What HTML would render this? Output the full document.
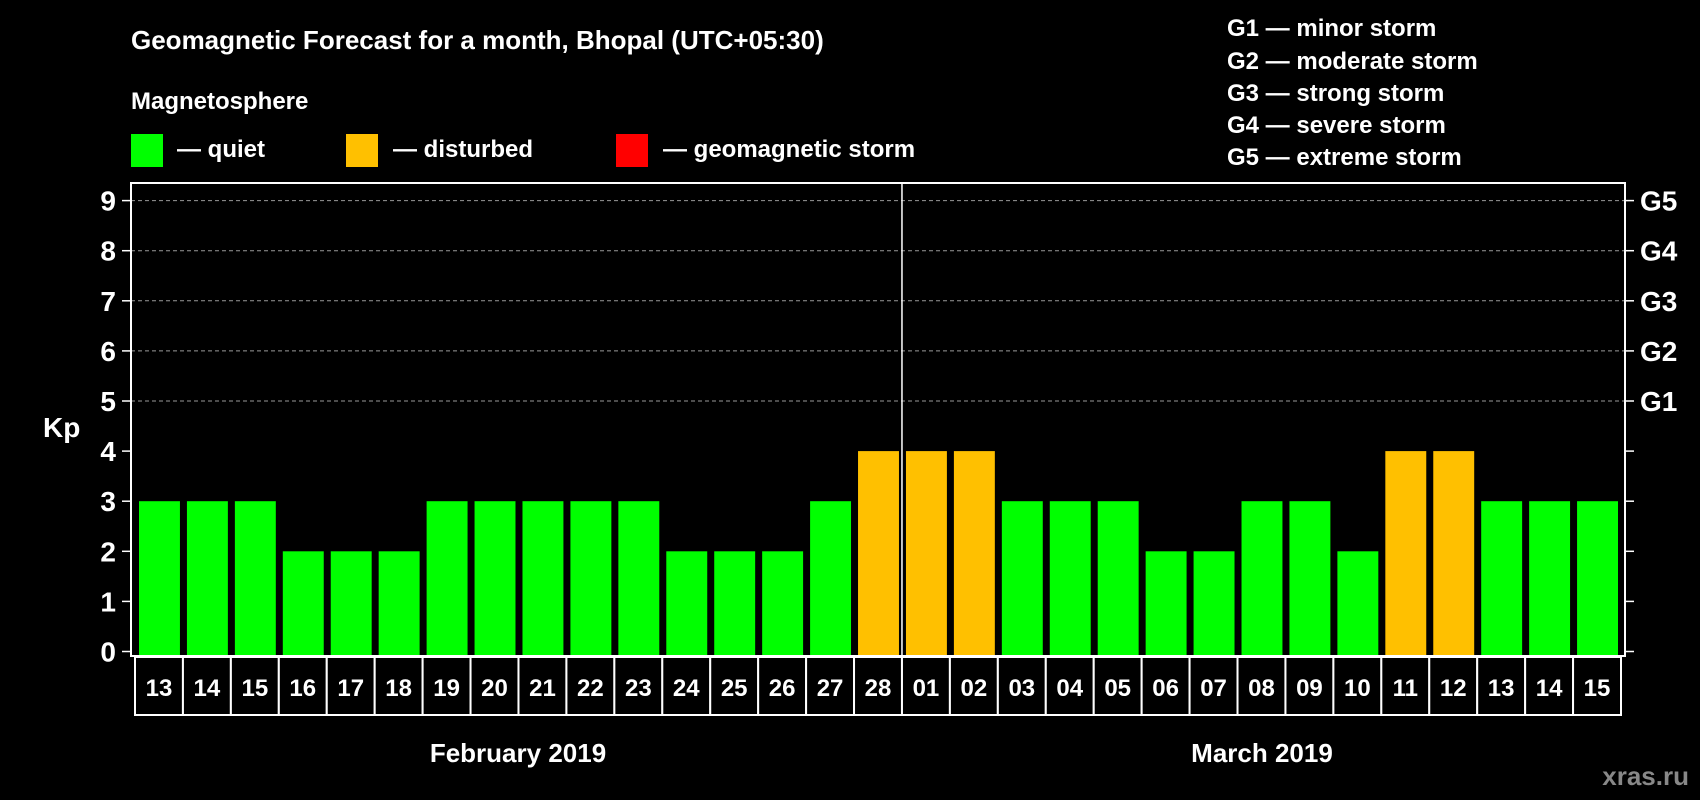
<!DOCTYPE html>
<html><head><meta charset="utf-8"><style>
html,body{margin:0;padding:0;background:#000;}
svg{display:block;font-family:"Liberation Sans",Arial,sans-serif;font-weight:bold;}
</style></head><body>
<svg id="chart" width="1700" height="800" viewBox="0 0 1700 800">
<rect width="1700" height="800" fill="#000"/>
<text x="131" y="49" fill="#fff" font-size="26">Geomagnetic Forecast for a month, Bhopal (UTC+05:30)</text>
<text x="131" y="109" fill="#fff" font-size="24">Magnetosphere</text>
<g>
<rect x="131" y="134" width="32" height="33" fill="#00ff00"/>
<text x="177" y="157" fill="#fff" font-size="24">— quiet</text>
<rect x="346" y="134" width="32" height="33" fill="#ffc000"/>
<text x="393" y="157" fill="#fff" font-size="24">— disturbed</text>
<rect x="616" y="134" width="32" height="33" fill="#ff0000"/>
<text x="663" y="157" fill="#fff" font-size="24">— geomagnetic storm</text>
</g>
<g fill="#fff" font-size="24">
<text x="1227" y="36">G1 — minor storm</text>
<text x="1227" y="69">G2 — moderate storm</text>
<text x="1227" y="101">G3 — strong storm</text>
<text x="1227" y="133">G4 — severe storm</text>
<text x="1227" y="165">G5 — extreme storm</text>
</g>
<text x="43" y="437" fill="#fff" font-size="28">Kp</text>
<g id="plot"></g>
<text x="518" y="762" fill="#fff" font-size="26" text-anchor="middle">February 2019</text>
<text x="1262" y="762" fill="#fff" font-size="26" text-anchor="middle">March 2019</text>
<text x="1689" y="785" fill="#888" font-size="26" text-anchor="end">xras.ru</text>
</svg>
<script>
const days = ["13","14","15","16","17","18","19","20","21","22","23","24","25","26","27","28","01","02","03","04","05","06","07","08","09","10","11","12","13","14","15"];
const kpValues = [3,3,3,2,2,2,3,3,3,3,3,2,2,2,3,4,4,4,3,3,3,2,2,3,3,2,4,4,3,3,3];
const yTicks = [0,1,2,3,4,5,6,7,8,9];
const gLabels = ["G1","G2","G3","G4","G5"];
const monthSplit = 16;

const NS="http://www.w3.org/2000/svg";
const g=document.getElementById('plot');
const L=131,R=1625,T=183,B=656,X0=135,X1=1621;
const y0=651.5,y9=200.6;
function yS(v){return y0+(y9-y0)*v/9;}
const band=(X1-X0)/days.length;
function xS(i){return X0+i*band;}
function mk(tag,attrs){const e=document.createElementNS(NS,tag);for(const k in attrs)e.setAttribute(k,attrs[k]);g.appendChild(e);return e;}

yTicks.forEach(v=>{
  const y=yS(v);
  if(v>=5){const l=mk('line',{x1:L,x2:R,y1:y,y2:y,stroke:'#999','stroke-dasharray':'4,3','stroke-width':1});
  
  }
  const t1=mk('line',{x1:L-9,x2:L,y1:y,y2:y,stroke:'#fff','stroke-width':1.5});
  
  
  const t2=mk('line',{x1:R,x2:R+9,y1:y,y2:y,stroke:'#fff','stroke-width':1.5});
  
  
  const tx=mk('text',{x:116,y:y+10,fill:'#fff','font-size':28,'text-anchor':'end'});
  tx.textContent=v;
  
  
});
gLabels.forEach((lab,i)=>{
  const tx=mk('text',{x:1640,y:yS(5+i)+10,fill:'#fff','font-size':28});
  tx.textContent=lab;
  
  
});
kpValues.forEach((v,i)=>{
  const x=xS(i)+4;
  const r=mk('rect',{x:x,y:yS(v),width:band-7,height:B-yS(v),fill:v>=5?'#ff0000':(v>=4?'#ffc000':'#00ff00')});
  
  
});
const fr=mk('rect',{x:L,y:T,width:R-L,height:B-T,fill:'none',stroke:'#fff','stroke-width':2});


const sp=mk('line',{x1:xS(monthSplit),x2:xS(monthSplit),y1:T,y2:B,stroke:'#fff','stroke-width':1.5});


days.forEach((d,i)=>{
  const bx=mk('rect',{x:xS(i),y:657,width:band,height:58,fill:'#000',stroke:'#fff','stroke-width':2});
  
  
  const tx=mk('text',{x:xS(i)+band/2,y:696,fill:'#fff','font-size':24,'text-anchor':'middle'});
  tx.textContent=d;
  
  
});
</script>
</body></html>
